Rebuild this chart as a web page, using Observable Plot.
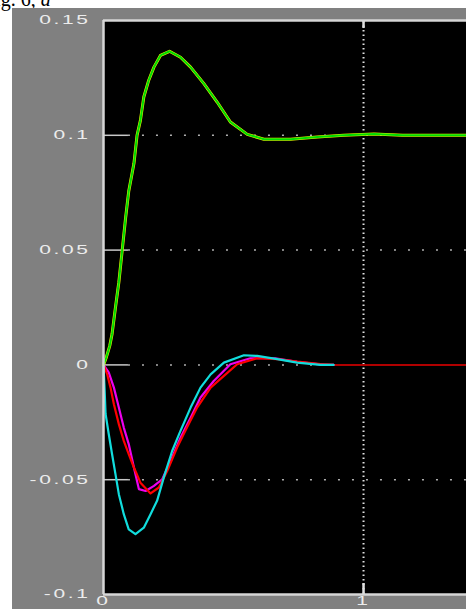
<!DOCTYPE html>
<html>
<head>
<meta charset="utf-8">
<script src="https://cdn.jsdelivr.net/npm/d3@7"></script>
<script src="https://cdn.jsdelivr.net/npm/@observablehq/plot@0.6"></script>
<style>
  html, body { margin: 0; padding: 0; background: #ffffff; width: 466px; height: 609px; overflow: hidden; position: relative; }
  #caption { position: absolute; left: -16px; top: -11px; font: 20px/20px "Liberation Serif", "DejaVu Serif", serif; color: #000; white-space: nowrap; }
  #panel { position: absolute; left: 12px; top: 8px; width: 454px; height: 601px; background: #808080; overflow: hidden; }
</style>
</head>
<body>
<div id="caption">Fig. 6, <i>a</i></div>
<div id="panel"></div>
<script>
// ---- data ----
const yTicks = [-0.1, -0.05, 0, 0.05, 0.1, 0.15];
const yTickLabels = ["-0.1", "-0.05", "0", "0.05", "0.1", "0.15"];
const xTicks = [0, 1];
const xTickLabels = ["0", "1"];
const gridY = [-0.05, 0, 0.05, 0.1];
const gridX = [1];

const greenT = [0, 0.01, 0.024, 0.033, 0.046, 0.059, 0.072, 0.085, 0.097, 0.117, 0.129, 0.142, 0.155, 0.174, 0.194, 0.219, 0.254, 0.296, 0.335, 0.386, 0.437, 0.488, 0.553, 0.617, 0.719, 0.822, 0.924, 1.04, 1.15, 1.4];
const greenV = [0, 0.003, 0.0083, 0.0135, 0.025, 0.036, 0.05, 0.064, 0.0756, 0.0877, 0.1, 0.1065, 0.1167, 0.124, 0.1297, 0.1348, 0.1366, 0.134, 0.1297, 0.1225, 0.1145, 0.1058, 0.1004, 0.0983, 0.0983, 0.0993, 0.1, 0.1006, 0.1, 0.1];

const cyanT = [0, 0.004, 0.008, 0.02, 0.033, 0.046, 0.059, 0.078, 0.097, 0.123, 0.155, 0.181, 0.206, 0.232, 0.264, 0.296, 0.335, 0.373, 0.412, 0.463, 0.54, 0.591, 0.668, 0.745, 0.835, 0.885];
const cyanV = [0, -0.0099, -0.0214, -0.030, -0.0389, -0.0476, -0.0563, -0.065, -0.0716, -0.0737, -0.0709, -0.065, -0.0592, -0.049, -0.0375, -0.0287, -0.0186, -0.0099, -0.0041, 0.001, 0.0042, 0.0039, 0.0025, 0.001, 0, 0];

const redT = [0, 0.014, 0.027, 0.04, 0.059, 0.078, 0.097, 0.117, 0.142, 0.181, 0.213, 0.245, 0.283, 0.321, 0.36, 0.412, 0.463, 0.514, 0.591, 0.668, 0.745, 0.835, 0.885];
const redV = [0, -0.004, -0.0099, -0.0171, -0.0258, -0.0331, -0.0389, -0.0447, -0.0513, -0.056, -0.0534, -0.0462, -0.036, -0.0273, -0.0186, -0.0099, -0.0048, 0.0003, 0.0029, 0.0025, 0.0014, 0.0004, 0];

const magentaT = [0, 0.02, 0.04, 0.059, 0.078, 0.097, 0.117, 0.136, 0.162, 0.194, 0.226, 0.258, 0.296, 0.335, 0.373, 0.424, 0.488, 0.565, 0.66, 0.745, 0.85, 0.885];
const magentaV = [0, -0.0033, -0.0099, -0.0186, -0.0273, -0.0345, -0.0447, -0.0541, -0.0549, -0.0527, -0.0498, -0.0418, -0.0317, -0.023, -0.0142, -0.007, 0.0003, 0.0029, 0.0029, 0.0013, 0, 0];

const tailT = [0.885, 1.4];
const tailV = [0, 0];

const xMax = 1.396;

// ---- build rows ----
const rows = (T, V) => T.map((t, i) => ({t, v: V[i]}));
const green = rows(greenT, greenV);
const cyan = rows(cyanT, cyanV);
const red = rows(redT, redV);
const magenta = rows(magentaT, magentaV);
const tail = rows(tailT, tailV);

const axisCol = "#d6d6d6";
const chart = Plot.plot({
  width: 454,
  height: 601,
  marginLeft: 91,
  marginTop: 12,
  marginBottom: 15,
  marginRight: 0,
  style: { background: "transparent", color: "#ececec", fontSize: "12px", fontFamily: "'Liberation Sans', Arial, sans-serif", overflow: "visible" },
  x: { domain: [0, xMax], ticks: xTicks, tickSize: 0, tickPadding: 2, tickFormat: d => xTickLabels[xTicks.indexOf(d)], label: null },
  y: { domain: [-0.1, 0.15], ticks: yTicks, tickSize: 0, tickPadding: 13, tickFormat: d => yTickLabels[yTicks.indexOf(d)], label: null },
  marks: [
    Plot.frame({ fill: "black", stroke: "none" }),
    // grid: solid inner tick stubs then dotted lines
    Plot.ruleY(gridY, { x1: 0, x2: 0.096, stroke: "#c8c8c8", strokeWidth: 1.5 }),
    Plot.ruleY(gridY, { x1: 0.096, x2: xMax, stroke: "#b0b0b0", strokeWidth: 1.5, strokeDasharray: "2,12" }),
    Plot.ruleX(gridX, { y1: -0.1, y2: 0.15, stroke: "#e0e0e0", strokeWidth: 2, strokeDasharray: "1.5,3" }),
    Plot.ruleX(gridX, { y1: 0.15, y2: 0.1465, stroke: "#e0e0e0", strokeWidth: 2.5 }),
    Plot.ruleX(gridX, { y1: -0.1, y2: -0.0952, stroke: "#e0e0e0", strokeWidth: 2.5 }),
    // curves
    Plot.line(tail, { x: "t", y: "v", stroke: "#b00000", strokeWidth: 2 }),
    Plot.line(magenta, { x: "t", y: "v", stroke: "#ee00ee", strokeWidth: 2.2 }),
    Plot.line(red, { x: "t", y: "v", stroke: "#ff0000", strokeWidth: 2.2 }),
    Plot.line(cyan, { x: "t", y: "v", stroke: "#11dddd", strokeWidth: 2.2 }),
    Plot.line(green, { x: "t", y: "v", stroke: "#eeee00", strokeWidth: 3 }),
    Plot.line(green, { x: "t", y: "v", stroke: "#00dd00", strokeWidth: 2 }),
    // axes border lines
    Plot.ruleX([0], { stroke: axisCol, strokeWidth: 2.5 }),
    Plot.ruleY([0.15, -0.1], { stroke: axisCol, strokeWidth: 2.5 })
  ]
});
document.getElementById("panel").appendChild(chart);

// widen the tick labels like the reference's stretched bitmap font
chart.querySelectorAll('g[aria-label^="x-axis"] text, g[aria-label^="y-axis"] text').forEach(t => {
  const x = +(t.getAttribute("x") || 0);
  const tr = t.getAttribute("transform") || "";
  t.setAttribute("transform", `${tr} translate(${x},0) scale(1.75,1) translate(${-x},0)`);
  t.style.letterSpacing = "1.5px";
});
</script>
</body>
</html>
